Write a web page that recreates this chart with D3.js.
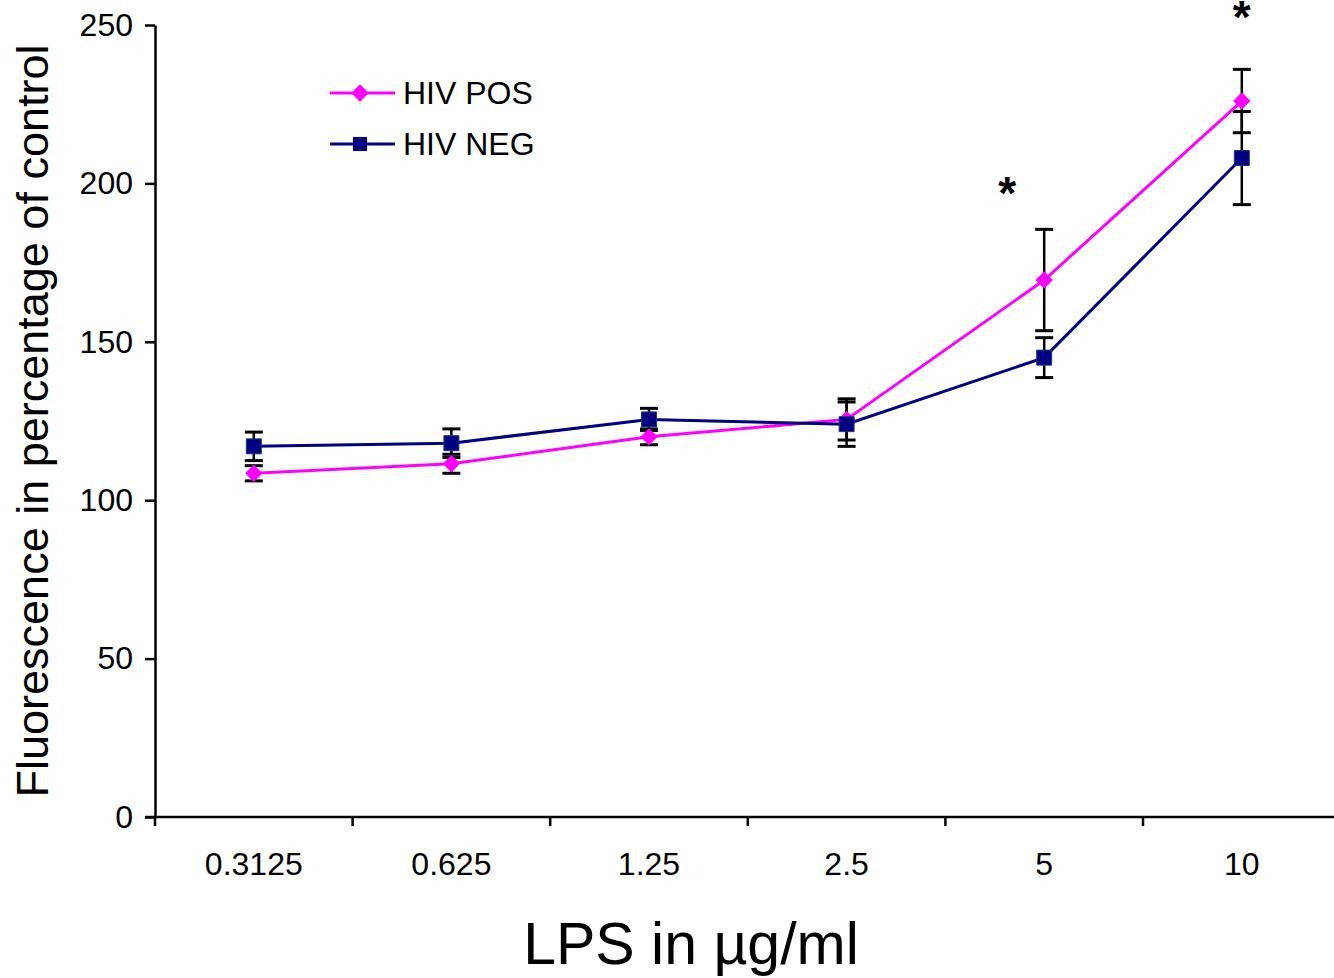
<!DOCTYPE html>
<html>
<head>
<meta charset="utf-8">
<script src="https://cdn.jsdelivr.net/npm/d3@7"></script>
<style>
  body { margin: 0; background: #fff; }
  text { font-family: "Liberation Sans", Arial, sans-serif; }
</style>
</head>
<body>
<div id="vis"></div>
<script>
var width = 1334,
    height = 978;

// data
var doses = ["0.3125", "0.625", "1.25", "2.5", "5", "10"];
var hivPos = [108.5, 111.5, 120, 125.5, 169.5, 226];
var hivPosErr = [2.4, 3, 2.5, 6.5, 16, 10];
var hivNeg = [117, 118, 125.5, 124, 145, 208];
var hivNegErr = [4.5, 4.5, 3.5, 7, 6.3, 14.7];
var yTicks = [0, 50, 100, 150, 200, 250];
var starDoses = ["5", "10"];
var starValues = [199, 254.3];

var margin = {left: 155, top: 25, bottom: 161};

var svg = d3.select("#vis").append("svg")
    .attr("width", width)
    .attr("height", height);

var x = d3.scaleBand()
    .domain(doses)
    .range([margin.left, margin.left + 6 * 197.6]);

var y = d3.scaleLinear()
    .domain([0, 250])
    .range([height - margin.bottom, margin.top]);

// y axis
var yAxis = svg.append("g")
    .attr("transform", "translate(" + margin.left + ",0)")
    .call(d3.axisLeft(y).tickValues(yTicks).tickSize(10).tickPadding(12).tickSizeOuter(0));
yAxis.select(".domain").attr("stroke", "#000").attr("stroke-width", 2.5);
yAxis.selectAll(".tick line").attr("stroke", "#000").attr("stroke-width", 2.5);
yAxis.selectAll(".tick text").style("font-size", "32px").attr("fill", "#000");

// x axis, ticks between categories
var xAxis = svg.append("g")
    .attr("transform", "translate(0," + y(0) + ")");
xAxis.append("line")
    .attr("x1", margin.left - 10)
    .attr("x2", width)
    .attr("stroke", "#000")
    .attr("stroke-width", 2.5);
xAxis.selectAll("line.tk")
    .data(doses)
    .enter().append("line")
    .attr("class", "tk")
    .attr("x1", function(d) { return x(d); })
    .attr("x2", function(d) { return x(d); })
    .attr("y1", 0)
    .attr("y2", 9)
    .attr("stroke", "#000")
    .attr("stroke-width", 2.5);
xAxis.selectAll("text")
    .data(doses)
    .enter().append("text")
    .attr("x", function(d) { return x(d) + x.bandwidth() / 2; })
    .attr("y", 58)
    .attr("text-anchor", "middle")
    .style("font-size", "32px")
    .text(function(d) { return d; });

// titles
svg.append("text")
    .attr("transform", "translate(48," + ((y(0) + y(250)) / 2) + ") rotate(-90)")
    .attr("text-anchor", "middle")
    .style("font-size", "45px")
    .text("Fluorescence in percentage of control");

svg.append("text")
    .attr("x", 691)
    .attr("y", 964)
    .attr("text-anchor", "middle")
    .style("font-size", "59px")
    .text("LPS in µg/ml");

function cx(d) { return x(d) + x.bandwidth() / 2; }

// diamond = square turned 45 degrees
var series = [
  {name: "HIV POS", values: hivPos, err: hivPosErr, color: "#ff00ff", size: 150, rot: 45},
  {name: "HIV NEG", values: hivNeg, err: hivNegErr, color: "#000080", size: 225, rot: 0}
];

var line = d3.line()
    .x(function(d, i) { return cx(doses[i]); })
    .y(function(d) { return y(d); });

// error bars
series.forEach(function(s) {
  var g = svg.append("g");
  s.values.forEach(function(v, i) {
    var xc = cx(doses[i]);
    g.append("line")
      .attr("x1", xc).attr("x2", xc)
      .attr("y1", y(v - s.err[i])).attr("y2", y(v + s.err[i]))
      .attr("stroke", "#000").attr("stroke-width", 2.5);
    [v - s.err[i], v + s.err[i]].forEach(function(e) {
      g.append("line")
        .attr("x1", xc - 9).attr("x2", xc + 9)
        .attr("y1", y(e)).attr("y2", y(e))
        .attr("stroke", "#000").attr("stroke-width", 3);
    });
  });
});

// lines + markers
series.forEach(function(s) {
  svg.append("path")
    .datum(s.values)
    .attr("d", line)
    .attr("fill", "none")
    .attr("stroke", s.color)
    .attr("stroke-width", 3);
});
series.forEach(function(s) {
  svg.selectAll(null)
    .data(s.values)
    .enter().append("path")
    .attr("transform", function(d, i) {
      return "translate(" + cx(doses[i]) + "," + y(d) + ") rotate(" + s.rot + ")";
    })
    .attr("d", d3.symbol().type(d3.symbolSquare).size(s.size))
    .attr("fill", s.color)
    .attr("stroke", s.rot === 0 ? "#1f3a78" : "none")
    .attr("stroke-width", 1);
});

// significance stars
svg.selectAll("text.star")
    .data(starDoses)
    .enter().append("text")
    .attr("class", "star")
    .attr("x", function(d, i) { return cx(d) - (i === 0 ? 37 : 0); })
    .attr("y", function(d, i) { return y(starValues[i]) + 22; })
    .attr("text-anchor", "middle")
    .style("font-size", "46px")
    .style("font-weight", "bold")
    .text("*");

// legend
var legend = svg.append("g").attr("transform", "translate(330,93)");
series.forEach(function(s, i) {
  var row = legend.append("g").attr("transform", "translate(0," + i * 51 + ")");
  row.append("line")
    .attr("x1", 0).attr("x2", 65)
    .attr("stroke", s.color).attr("stroke-width", 3);
  row.append("path")
    .attr("transform", "translate(30,0) rotate(" + s.rot + ")")
    .attr("d", d3.symbol().type(d3.symbolSquare).size(s.rot === 0 ? 200 : 150))
    .attr("fill", s.color);
  row.append("text")
    .attr("x", 73)
    .attr("y", 11)
    .style("font-size", "32px")
    .text(s.name);
});
</script>
</body>
</html>
